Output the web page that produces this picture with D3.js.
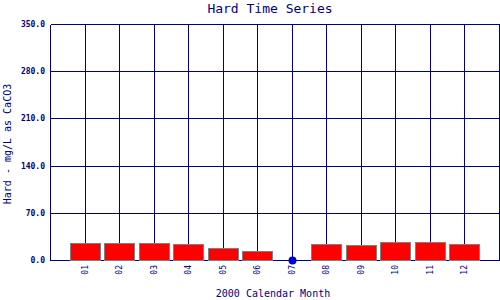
<!DOCTYPE html>
<html>
<head>
<meta charset="utf-8">
<script src="https://cdn.jsdelivr.net/npm/d3@7"></script>
<style>
  body { margin: 0; background: #fff; }
  svg { display: block; }
</style>
</head>
<body>
<div id="chart"></div>
<script>
const months = ['01', '02', '03', '04', '05', '06', '07', '08', '09', '10', '11', '12'];
const hardness = [25.2, 25.2, 25.2, 23.7, 17.8, 13.3, 0, 23.2, 21.8, 26.7, 26.7, 23.3];
const yTicks = [0, 70, 140, 210, 280, 350];

const width = 500;
const height = 300;
const navy = '#000080';
const mono = '"DejaVu Sans Mono", "Liberation Mono", monospace';

const margin = { left: 50, right: 1, top: 24, bottom: 40 };

const svg = d3.select('#chart')
    .append('svg')
    .attr('width', width)
    .attr('height', height)
    .style('background-color', 'white');

const x = d3.scaleLinear()
    .domain([0, 13])
    .range([margin.left, width - margin.right]);

const y = d3.scaleLinear()
    .domain([0, 350])
    .range([height - margin.bottom, margin.top]);

// grid, snapped to whole pixels
const px = v => Math.round(v) + 0.5;

svg.append('g')
    .selectAll('line')
    .data(d3.range(0, 14))
    .join('line')
    .attr('x1', d => px(x(d)))
    .attr('x2', d => px(x(d)))
    .attr('y1', px(y(0)))
    .attr('y2', px(y(350)))
    .attr('stroke', navy)
    .attr('stroke-width', 1)
    .attr('shape-rendering', 'crispEdges');

svg.append('g')
    .selectAll('line')
    .data(yTicks)
    .join('line')
    .attr('x1', px(x(0)))
    .attr('x2', px(x(13)))
    .attr('y1', d => px(y(d)))
    .attr('y2', d => px(y(d)))
    .attr('stroke', navy)
    .attr('stroke-width', 1)
    .attr('shape-rendering', 'crispEdges');

// y tick labels
svg.append('g')
    .selectAll('text')
    .data(yTicks)
    .join('text')
    .attr('x', x(0) - 5)
    .attr('y', d => y(d) + 3)
    .attr('text-anchor', 'end')
    .style('font-family', mono)
    .style('font-size', '8px')
    .style('font-weight', 'bold')
    .attr('fill', navy)
    .text(d => d.toFixed(1));

// x tick labels
svg.append('g')
    .selectAll('text')
    .data(months)
    .join('text')
    .attr('transform', (d, i) => `translate(${x(i + 1) + 3}, ${y(0) + 5}) rotate(-90)`)
    .attr('text-anchor', 'end')
    .style('font-family', mono)
    .style('font-size', '8px')
    .attr('fill', navy)
    .text(d => d);

// bars
const barW = 30;
svg.append('g')
    .selectAll('rect')
    .data(hardness.map((v, i) => ({ m: i + 1, v })).filter(d => d.v > 0))
    .join('rect')
    .attr('x', d => px(x(d.m) - barW / 2))
    .attr('y', d => px(y(d.v)))
    .attr('width', barW)
    .attr('height', d => Math.round(y(0) - y(d.v)))
    .attr('fill', '#ff0000')
    .attr('stroke', '#808080')
    .attr('stroke-width', 1)
    .attr('shape-rendering', 'crispEdges');

// zero values shown as a dot
svg.append('g')
    .selectAll('circle')
    .data(hardness.map((v, i) => ({ m: i + 1, v })).filter(d => d.v === 0))
    .join('circle')
    .attr('cx', d => px(x(d.m)))
    .attr('cy', d => px(y(d.v)))
    .attr('r', 4)
    .attr('fill', '#0000cc');

// titles
svg.append('text')
    .attr('x', 270)
    .attr('y', 13)
    .attr('text-anchor', 'middle')
    .style('font-family', mono)
    .style('font-size', '13px')
    .attr('fill', navy)
    .text('Hard Time Series');

svg.append('text')
    .attr('x', 273)
    .attr('y', 297)
    .attr('text-anchor', 'middle')
    .style('font-family', mono)
    .style('font-size', '10px')
    .attr('fill', navy)
    .text('2000 Calendar Month');

svg.append('text')
    .attr('transform', `translate(11, 144) rotate(-90)`)
    .attr('text-anchor', 'middle')
    .style('font-family', mono)
    .style('font-size', '10px')
    .attr('fill', navy)
    .text('Hard - mg/L as CaCO3');
</script>
</body>
</html>
